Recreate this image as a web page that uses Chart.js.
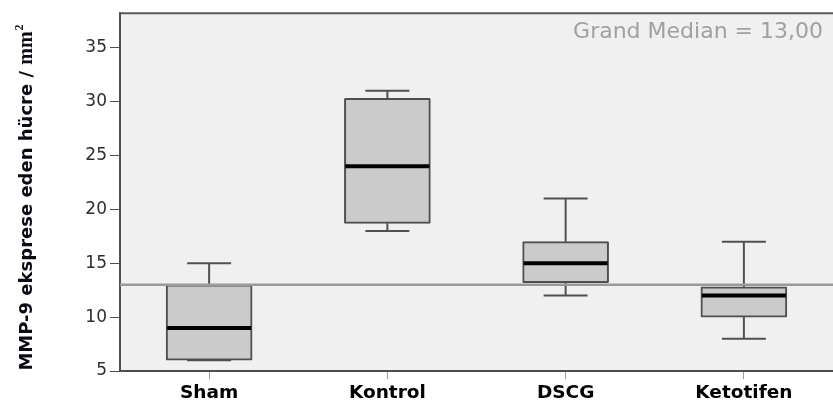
<!DOCTYPE html>
<html>
<head>
<meta charset="utf-8">
<script src="https://cdn.jsdelivr.net/npm/chart.js@4/dist/chart.umd.min.js"></script>
<style>
  html, body { margin: 0; padding: 0; background: #fff; }
  #wrap { width: 833px; height: 409px; }
</style>
</head>
<body>
<div id="wrap"><canvas id="myChart" width="833" height="409"></canvas></div>
<script>
const categories = ["Sham", "Kontrol", "DSCG", "Ketotifen"];
const whiskerLow = [6, 18, 12, 8];
const q1 = [6, 18.7, 13.2, 10];
const median = [9, 24, 15, 12];
const q3 = [13, 30.3, 17, 12.8];
const whiskerHigh = [15, 31, 21, 17];
const grandMedian = 13;
const yTicks = [5, 10, 15, 20, 25, 30, 35];
const grandMedianLabel = "Grand Median = 13,00";
const yTitle = "MMP-9 eksprese eden hücre / ";
const yTitleUnit = "mm";
const yTitleSup = "2";

const boxPlugin = {
  id: "boxPlugin",
  beforeDraw(chart) {
    const { ctx, chartArea } = chart;
    ctx.save();
    ctx.fillStyle = "#ffffff";
    ctx.fillRect(0, 0, chart.width, chart.height);
    ctx.fillStyle = "#f0f0f0";
    ctx.fillRect(chartArea.left, chartArea.top, chartArea.right - chartArea.left, chartArea.bottom - chartArea.top);
    ctx.restore();
  },
  afterDatasetsDraw(chart) {
    const { ctx, chartArea } = chart;
    const y = chart.scales.y;
    const meta = chart.getDatasetMeta(0);
    ctx.save();
    // whiskers
    ctx.strokeStyle = "#505050";
    ctx.lineWidth = 2;
    meta.data.forEach((bar, i) => {
      const x = bar.x;
      const cap = 22;
      const yHi = y.getPixelForValue(whiskerHigh[i]);
      const yQ3 = y.getPixelForValue(q3[i]);
      const yLo = y.getPixelForValue(whiskerLow[i]);
      const yQ1 = y.getPixelForValue(q1[i]);
      ctx.beginPath();
      ctx.moveTo(x, yQ3); ctx.lineTo(x, yHi);
      ctx.moveTo(x - cap, yHi); ctx.lineTo(x + cap, yHi);
      ctx.moveTo(x, yQ1); ctx.lineTo(x, yLo);
      ctx.moveTo(x - cap, yLo); ctx.lineTo(x + cap, yLo);
      ctx.stroke();
    });
    // medians
    ctx.strokeStyle = "#000000";
    ctx.lineWidth = 4;
    meta.data.forEach((bar, i) => {
      const ym = y.getPixelForValue(median[i]);
      ctx.beginPath();
      ctx.moveTo(bar.x - bar.width / 2 + 1, ym);
      ctx.lineTo(bar.x + bar.width / 2 - 1, ym);
      ctx.stroke();
    });
    // grand median line
    const yg = y.getPixelForValue(grandMedian);
    ctx.strokeStyle = "#9a9a9a";
    ctx.lineWidth = 2.5;
    ctx.beginPath();
    ctx.moveTo(chartArea.left, yg);
    ctx.lineTo(chartArea.right, yg);
    ctx.stroke();
    ctx.restore();
  },
  afterDraw(chart) {
    const { ctx, chartArea } = chart;
    ctx.save();
    // top frame
    ctx.strokeStyle = "#5a5a5a";
    ctx.lineWidth = 2;
    ctx.beginPath();
    ctx.moveTo(chartArea.left - 1, chartArea.top);
    ctx.lineTo(chartArea.right, chartArea.top);
    ctx.stroke();
    // grand median text
    ctx.fillStyle = "#a0a0a0";
    ctx.font = "22px 'DejaVu Sans'";
    ctx.textAlign = "right";
    ctx.textBaseline = "alphabetic";
    ctx.fillText(grandMedianLabel, 823, 38);
    // y title
    ctx.translate(32, 198);
    ctx.rotate(-Math.PI / 2);
    const f1 = "bold 18px 'DejaVu Sans'";
    const f2 = "bold 20px 'Liberation Serif'";
    const f3 = "bold 12px 'Liberation Serif'";
    ctx.font = f1; const w1 = ctx.measureText(yTitle).width;
    ctx.font = f2; const w2 = ctx.measureText(yTitleUnit).width;
    ctx.font = f3; const w3 = ctx.measureText(yTitleSup).width;
    let x0 = -(w1 + w2 + w3) / 2;
    ctx.fillStyle = "#0a0a14";
    ctx.textAlign = "left";
    ctx.font = f1; ctx.fillText(yTitle, x0, 0);
    ctx.font = f2; ctx.fillText(yTitleUnit, x0 + w1, 0);
    ctx.font = f3; ctx.fillText(yTitleSup, x0 + w1 + w2 + 1, -9);
    ctx.restore();
  }
};

const ctx = document.getElementById("myChart").getContext("2d");
const myChart = new Chart(ctx, {
  type: "bar",
  data: {
    labels: categories,
    datasets: [
      {
        data: categories.map((c, i) => [q1[i], q3[i]]),
        backgroundColor: "#cbcbcb",
        borderColor: "#4e4e4e",
        borderWidth: 2,
        borderSkipped: false,
        borderRadius: 1,
        barThickness: 86,
      },
    ],
  },
  options: {
    responsive: false,
    animation: false,
    layout: { padding: { top: 10, left: 0, right: 0, bottom: 0 } },
    plugins: {
      legend: { display: false },
      tooltip: { enabled: false },
    },
    scales: {
      x: {
        grid: { offset: false, drawOnChartArea: false, drawTicks: true, tickLength: 8, color: "#999999" },
        border: { color: "#4e4e4e", width: 2 },
        ticks: { color: "#000000", font: { family: "DejaVu Sans", size: 18.5, weight: "bold" }, padding: 3 },
        afterFit(scale) { scale.height = 38; },
      },
      y: {
        min: 5,
        max: 38.2,
        afterBuildTicks(scale) { scale.ticks = yTicks.map((v) => ({ value: v })); },
        grid: { drawOnChartArea: false, drawTicks: true, tickLength: 10, color: "#4e4e4e" },
        border: { color: "#4e4e4e", width: 2 },
        ticks: { color: "#2e2e2e", font: { family: "DejaVu Sans", size: 17 }, padding: 3 },
        afterFit(scale) { scale.width = 120; },
      },
    },
  },
  plugins: [boxPlugin],
});
</script>
</body>
</html>
